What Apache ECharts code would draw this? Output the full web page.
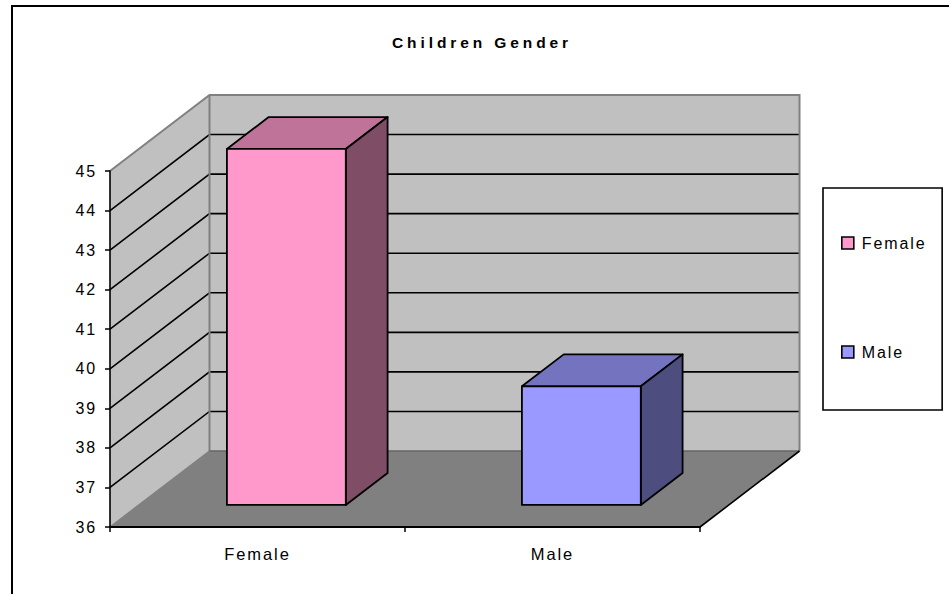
<!DOCTYPE html>
<html>
<head>
<meta charset="utf-8">
<style>
html,body{margin:0;padding:0;background:#fff;}
#c{width:949px;height:594px;}
#c text{letter-spacing:1.9px;}
#c text[style*="bold"]{letter-spacing:3.9px;}
</style>
<script src="https://cdn.jsdelivr.net/npm/echarts@6/dist/echarts.min.js"></script>
</head>
<body>
<div id="c"></div>
<script>
const chartTitle = 'Children Gender';
const categories = ['Female', 'Male'];
const femaleValues = [[0, 45]];
const maleValues = [[1, 39]];
const yMin = 36, yMax = 45;
const innerGridTicks = [37, 38, 39, 40, 41, 42, 43, 44];

const depthX = 99.5, depthY = 76;      // wall depth of the pseudo-3D box
const barDepthFront = 0.29, barDepthBack = 0.71, barWidthShare = 0.403;
const fontName = '"Liberation Sans", Arial, sans-serif';

function poly(pts, fill, stroke, lw) {
  return { type: 'polygon', shape: { points: pts },
    style: { fill: fill, stroke: stroke || null, lineWidth: lw || 0, lineJoin: 'round' } };
}
function line(pts, stroke, lw) {
  return { type: 'polyline', shape: { points: pts },
    style: { fill: null, stroke: stroke, lineWidth: lw } };
}

function renderWalls(params, api) {
  const cs = params.coordSys;
  const xL = cs.x, xR = cs.x + cs.width;
  const yT = api.coord([0, yMax])[1], yB = api.coord([0, yMin])[1];
  const dx = depthX, dy = depthY;
  const kids = [
    poly([[xL, yT], [xL + dx, yT - dy], [xL + dx, yB - dy], [xL, yB]], '#C0C0C0'),
    poly([[xL + dx, yT - dy], [xR + dx, yT - dy], [xR + dx, yB - dy], [xL + dx, yB - dy]], '#C0C0C0'),
    poly([[xL, yB], [xL + dx, yB - dy], [xR + dx, yB - dy], [xR, yB]], '#808080')
  ];
  innerGridTicks.forEach(function (v) {
    const y = api.coord([0, v])[1];
    kids.push(line([[xL, y], [xL + dx, y - dy], [xR + dx, y - dy]], '#000', 1.6));
  });
  kids.push(line([[xL, yT], [xL + dx, yT - dy], [xR + dx, yT - dy], [xR + dx, yB - dy]], '#808080', 2));
  kids.push(line([[xL + dx, yT - dy], [xL + dx, yB - dy]], '#808080', 2));
  kids.push(line([[xL, yB], [xL + dx, yB - dy]], '#808080', 1.5));
  kids.push(line([[xL + dx, yB - dy], [xR + dx, yB - dy]], '#666', 1.5));
  kids.push(line([[xR, yB], [xR + dx, yB - dy]], '#000', 1.6));
  return { type: 'group', children: kids };
}

function barRenderer(front, top, side) {
  return function (params, api) {
    const cat = api.value(0), val = api.value(1);
    const band = api.size([1, 0])[0];
    const w = band * barWidthShare;
    const c = api.coord([cat, val]);
    const b = api.coord([cat, yMin]);
    const fx = depthX * barDepthFront, fy = depthY * barDepthFront;
    const bx = depthX * barDepthBack, by = depthY * barDepthBack;
    const L = c[0] - w / 2 + fx, R = c[0] + w / 2 + fx;
    const T = c[1] - fy, B = b[1] - fy;
    const ddx = bx - fx, ddy = by - fy;
    const s = '#000', lw = 1.8;
    return { type: 'group', children: [
      poly([[L, T], [R, T], [R + ddx, T - ddy], [L + ddx, T - ddy]], top, s, lw),
      poly([[R, T], [R + ddx, T - ddy], [R + ddx, B - ddy], [R, B]], side, s, lw),
      poly([[L, T], [R, T], [R, B], [L, B]], front, s, lw)
    ] };
  };
}

const chart = echarts.init(document.getElementById('c'), null, { renderer: 'svg' });
chart.setOption({
  animation: false,
  backgroundColor: '#fff',
  title: {
    text: chartTitle, left: 477, top: 29, textAlign: 'center',
    textStyle: { fontFamily: fontName, fontSize: 15.5, fontWeight: 'bold', color: '#000' }
  },
  graphic: [{
    type: 'polyline', silent: true, z: 0,
    shape: { points: [[12, 600], [12, 6], [955, 6]] },
    style: { fill: null, stroke: '#000', lineWidth: 2 }
  }],
  legend: {
    data: [
      { name: 'Female', itemStyle: { color: '#FF99CC', borderColor: '#000', borderWidth: 1.6 } },
      { name: 'Male', itemStyle: { color: '#9999FF', borderColor: '#000', borderWidth: 1.6 } }
    ],
    orient: 'vertical', left: 823, top: 188,
    padding: [47, 27, 50, 18], itemGap: 93, itemWidth: 12, itemHeight: 12,
    icon: 'rect', backgroundColor: '#fff', borderColor: '#000', borderWidth: 1.6, borderRadius: 0,
    textStyle: { fontFamily: fontName, fontSize: 16, lineHeight: 12, color: '#000', padding: [0, 0, 0, 3] }
  },
  grid: { left: 110, right: 249, top: 171, bottom: 67 },
  xAxis: {
    type: 'category', data: categories, z: 3,
    axisLine: { show: true, onZero: false, lineStyle: { color: '#000', width: 2 } },
    axisTick: { show: true, length: 5, lineStyle: { color: '#000', width: 1.5 } },
    axisLabel: { fontFamily: fontName, fontSize: 16.5, color: '#000', margin: 18 },
    splitLine: { show: false }
  },
  yAxis: {
    type: 'value', min: yMin, max: yMax, interval: 1, z: 3,
    axisLine: { show: true, lineStyle: { color: '#000', width: 1.6 } },
    axisTick: { show: true, length: 5, lineStyle: { color: '#000', width: 1.5 } },
    axisLabel: { fontFamily: fontName, fontSize: 16, color: '#000', margin: 13 },
    splitLine: { show: false }
  },
  series: [
    { type: 'custom', name: 'walls', silent: true, z: 1, data: [[0, yMin]], renderItem: renderWalls, clip: false, tooltip: { show: false } },
    { type: 'custom', name: 'Female', z: 4, data: femaleValues, itemStyle: { color: '#FF99CC' }, renderItem: barRenderer('#FF99CC', '#BF7399', '#804D66'), clip: false },
    { type: 'custom', name: 'Male', z: 4, data: maleValues, itemStyle: { color: '#9999FF' }, renderItem: barRenderer('#9999FF', '#7373BF', '#4D4D80'), clip: false }
  ]
});
</script>
</body>
</html>
